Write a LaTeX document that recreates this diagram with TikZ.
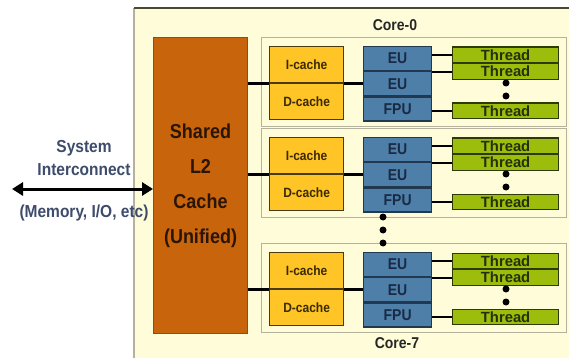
\documentclass[tikz,border=0pt]{standalone}
\usepackage{fontspec}
\usepackage{graphicx}
\setmainfont{Liberation Sans}
\usetikzlibrary{arrows.meta}
\definecolor{panel}{HTML}{FFFCD9}
\definecolor{panelline}{HTML}{B4B29C}
\definecolor{paneltop}{HTML}{4A4A30}
\definecolor{ltwo}{HTML}{C8640C}
\definecolor{ltwoline}{HTML}{9A4A08}
\definecolor{ltwotext}{HTML}{2A1505}
\definecolor{cachefill}{HTML}{FFC425}
\definecolor{cacheline}{HTML}{4A3A10}
\definecolor{cachetext}{HTML}{3A2A00}
\definecolor{eufill}{HTML}{4E7FA8}
\definecolor{euline}{HTML}{203850}
\definecolor{eutext}{HTML}{1A2A45}
\definecolor{thfill}{HTML}{9CBD0C}
\definecolor{thline}{HTML}{2E3A05}
\definecolor{thtext}{HTML}{24300A}
\definecolor{sidetext}{HTML}{3E4C6C}
\newcommand\talltext[1]{\scalebox{1}[1.12]{#1}}
\tikzset{
  corebox/.style={draw=panelline, fill=panel, line width=1.2pt, anchor=north west, inner sep=0pt, minimum width=305pt, minimum height=89pt},
  l2box/.style={draw=ltwoline, fill=ltwo, line width=1pt, anchor=north west, inner sep=0pt, minimum width=94pt, minimum height=296pt, align=center, text=ltwotext, font=\fontsize{18}{35}\selectfont\bfseries},
  cachebox/.style={draw=cacheline, fill=cachefill, line width=1.2pt, anchor=north west, inner sep=0pt, minimum width=74pt, minimum height=36pt, text=cachetext, font=\fontsize{12}{13}\selectfont\bfseries},
  eubox/.style={draw=euline, fill=eufill, line width=1.2pt, anchor=north west, inner sep=0pt, minimum width=68pt, minimum height=24pt, text=eutext, font=\fontsize{14}{15}\selectfont\bfseries},
  thbox/.style={draw=thline, fill=thfill, line width=1.2pt, anchor=north west, inner sep=0pt, minimum width=106pt, minimum height=15.5pt, text=thtext, font=\fontsize{14.8}{15}\selectfont\bfseries},
  blackdot/.style={circle, fill=black, inner sep=0pt, minimum size=7pt},
  wire/.style={line width=2pt, black},
  l2wire/.style={line width=3pt, black},
  sidelabel/.style={text=sidetext, align=center, font=\fontsize{15.5}{23}\selectfont\bfseries},
  corelabel/.style={text=black!85, font=\fontsize{14}{15}\selectfont\bfseries},
  bigarrow/.style={line width=3pt, {Triangle[length=11pt,width=13pt]}-{Triangle[length=11pt,width=13pt]}}
}
\begin{document}
\begin{tikzpicture}[x=1pt,y=-1pt]
\useasboundingbox (0,0) rectangle (569,358);
\fill[white] (0,0) rectangle (569,358);
\fill[panel] (134,8) rectangle (569,358);
\draw[panelline, line width=1.2pt] (134,358) -- (134,8);
\draw[paneltop, line width=1.2pt] (134,8) -- (569,8);

\node[l2box] (L2) at (153,37) {\talltext{Shared}\\\talltext{L2}\\\talltext{Cache}\\\talltext{(Unified)}};

\foreach \i/\T in {0/37,1/128,7/243}{
  \node[corebox] (core\i) at (261,\T) {};
  \node[cachebox] (ic\i) at (269,{\T+9}) {\talltext{I-cache}};
  \node[cachebox, anchor=north] (dc\i) at (ic\i.south) {\talltext{D-cache}};
  \node[eubox] (eua\i) at (363,{\T+9}) {\talltext{EU}};
  \node[eubox, anchor=north] (eub\i) at (eua\i.south) {\talltext{EU}};
  \node[eubox, anchor=north] (fpu\i) at (eub\i.south) {\talltext{FPU}};
  \node[thbox] (tha\i) at (452,{\T+9.5}) {Thread};
  \node[thbox, anchor=north] (thb\i) at (tha\i.south) {Thread};
  \node[thbox] (thc\i) at (452,{\T+65.5}) {Thread};
  \node[blackdot] (dta\i) at (506,{\T+46}) {};
  \node[blackdot] (dtb\i) at (506,{\T+59}) {};
  \draw[l2wire] (ic\i.south west -| L2.east) -- (ic\i.south west);
  \draw[l2wire] (ic\i.south east) -- (ic\i.south east -| eua\i.west);
  \draw[wire] (tha\i.west) -- (tha\i.west -| eua\i.east);
  \draw[wire] (thb\i.west) -- (thb\i.west -| eua\i.east);
  \draw[wire] (thc\i.west) -- (thc\i.west -| fpu\i.east);
}

\node[blackdot] (vda) at (383,217) {};
\node[blackdot] (vdb) at (383,230) {};
\node[blackdot] (vdc) at (383,243) {};

\node[corelabel] (lab0) at (395,25) {\talltext{Core-0}};
\node[corelabel] (lab7) at (397,343) {\talltext{Core-7}};

\node[sidelabel] (sys) at (84,158.5) {\talltext{System}\\\talltext{Interconnect}};
\node[sidelabel] (mem) at (84,213) {\talltext{(Memory, I/O, etc)}};
\coordinate (arrowend) at (12,189);
\draw[bigarrow] (arrowend) -- (arrowend -| L2.west);
\end{tikzpicture}
\end{document}
